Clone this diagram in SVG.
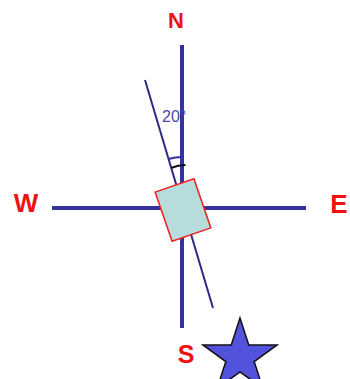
<svg xmlns="http://www.w3.org/2000/svg" width="350" height="379" viewBox="0 0 350 379">
<style>
.axis{stroke:#33339a;stroke-width:4;fill:none}
.tilt{stroke:#2b2b85;stroke-width:2;fill:none}
.lbl{font-family:"Liberation Sans",Arial,sans-serif;font-weight:bold;fill:#ee1111}
.ang{font-family:"Liberation Sans",Arial,sans-serif;font-size:16px;fill:#4848a8}
</style>
<rect width="350" height="379" fill="#ffffff"/>
<g id="connectors">
<line class="axis" x1="182" y1="45" x2="182" y2="328"/>
<line class="axis" x1="52" y1="208" x2="306" y2="208"/>
<line class="tilt" x1="145" y1="80" x2="213" y2="308"/>
<path d="M168.5 159 A47 47 0 0 1 182 157" stroke="#33339a" stroke-width="2" fill="none"/>
<path d="M171 168 A38 38 0 0 1 185.5 165" stroke="#111111" stroke-width="2" fill="none"/>
</g>
<g id="angle-label"><text class="ang" x="162" y="122">20°</text></g>
<g id="box"><rect x="-20.5" y="-26" width="41" height="52" transform="translate(183 210) rotate(-19)" fill="#b6dcdc" stroke="#f02020" stroke-width="1.5"/></g>
<g id="north"><text class="lbl" x="176" y="28" font-size="22" text-anchor="middle">N</text></g>
<g id="west"><text class="lbl" x="26" y="212" font-size="26" text-anchor="middle">W</text></g>
<g id="east"><text class="lbl" x="339" y="213" font-size="26" text-anchor="middle">E</text></g>
<g id="south"><text class="lbl" x="186" y="363" font-size="25" text-anchor="middle">S</text></g>
<g id="star"><polygon points="240,318 248.76,344.95 277.09,344.95 254.17,361.6 262.92,388.55 240,371.9 217.08,388.55 225.83,361.6 202.91,344.95 231.24,344.95" fill="#5252dc" stroke="#111111" stroke-width="1.5" stroke-linejoin="miter"/></g>
</svg>
